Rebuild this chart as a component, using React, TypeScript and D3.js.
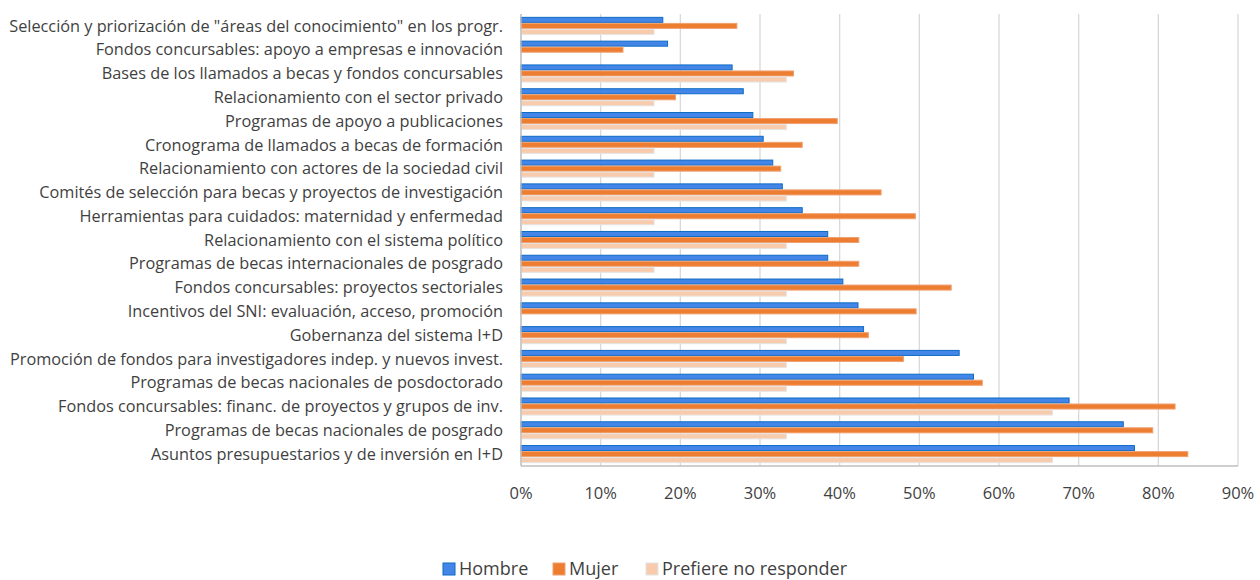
import React from "react";
import * as d3 from "d3";

const categories = [
  "Selección y priorización de \"áreas del conocimiento\" en los progr.",
  "Fondos concursables: apoyo a empresas e innovación",
  "Bases de los llamados a becas y fondos concursables",
  "Relacionamiento con el sector privado",
  "Programas de apoyo a publicaciones",
  "Cronograma de llamados a becas de formación",
  "Relacionamiento con actores de la sociedad civil",
  "Comités de selección para becas y proyectos de investigación",
  "Herramientas para cuidados: maternidad y enfermedad",
  "Relacionamiento con el sistema político",
  "Programas de becas internacionales de posgrado",
  "Fondos concursables: proyectos sectoriales",
  "Incentivos del SNI: evaluación, acceso, promoción",
  "Gobernanza del sistema I+D",
  "Promoción de fondos para investigadores indep. y nuevos invest.",
  "Programas de becas nacionales de posdoctorado",
  "Fondos concursables: financ. de proyectos y grupos de inv.",
  "Programas de becas nacionales de posgrado",
  "Asuntos presupuestarios y de inversión en I+D",
];

const hombre = [17.8, 18.4, 26.5, 27.9, 29.1, 30.4, 31.6, 32.8, 35.3, 38.5, 38.5, 40.4, 42.3, 43.0, 55.0, 56.8, 68.8, 75.6, 77.0];
const mujer = [27.1, 12.8, 34.2, 19.4, 39.7, 35.3, 32.6, 45.2, 49.5, 42.4, 42.4, 54.0, 49.6, 43.6, 48.0, 57.9, 82.1, 79.3, 83.7];
const prefiere = [16.7, 0, 33.3, 16.7, 33.3, 16.7, 16.7, 33.3, 16.7, 33.3, 16.7, 33.3, 0, 33.3, 33.3, 33.3, 66.7, 33.3, 66.7];

const seriesNames = ["Hombre", "Mujer", "Prefiere no responder"];
const seriesValues = [hombre, mujer, prefiere];
const xTicks = [0, 10, 20, 30, 40, 50, 60, 70, 80, 90];

const fills = ["#4386E8", "#ED7D31", "#F8CBAD"];
const strokes = ["#0E6BC4", "#F0A070", "#E4E4E4"];

export default function App() {
  const W = 1260;
  const H = 580;
  const left = 521;
  const right = 1238;
  const top = 14;
  const bottom = 466;

  const x = d3.scaleLinear().domain([0, 90]).range([left, right]);
  const y = d3.scaleBand<string>().domain(categories).range([top, bottom]).paddingInner(0.24).paddingOuter(0.12);
  const inner = d3.scaleBand<string>().domain(seriesNames).range([0, y.bandwidth()]);

  const textColor = "#3f3f3f";
  const font = "'Open Sans', sans-serif";

  const legendItems = [
    { name: "Hombre", x: 443 },
    { name: "Mujer", x: 553 },
    { name: "Prefiere no responder", x: 646 },
  ];

  return (
    <svg width={W} height={H} style={{ position: "absolute", left: 0, top: 0, background: "#fff" }} fontFamily={font}>
      {xTicks.map((t) => (
        <line key={"g" + t} x1={x(t)} x2={x(t)} y1={top} y2={bottom} stroke="#d9d9d9" strokeWidth={1.3} />
      ))}
      {categories.map((c, i) => (
        <g key={c}>
          {seriesNames.map((s, j) => {
            const v = seriesValues[j][i];
            if (!v) return null;
            const yy = (y(c) as number) + (inner(s) as number);
            return (
              <rect
                key={s}
                x={x(0)}
                y={yy + 0.5}
                width={x(v) - x(0)}
                height={inner.bandwidth() - 1}
                fill={fills[j]}
                stroke={strokes[j]}
                strokeWidth={1}
              />
            );
          })}
          <text
            x={left - 18}
            y={(y(c) as number) + y.bandwidth() / 2}
            dy="0.35em"
            textAnchor="end"
            fontSize={16.3}
            fill={textColor}
          >
            {c}
          </text>
        </g>
      ))}
      <line x1={left} x2={left} y1={top} y2={bottom} stroke="#bfbfbf" strokeWidth={1.3} />
      <line x1={left} x2={right} y1={bottom} y2={bottom} stroke="#bfbfbf" strokeWidth={1.3} />
      {xTicks.map((t) => (
        <text key={"t" + t} x={x(t)} y={499} textAnchor="middle" fontSize={16.5} fill={textColor}>
          {t + "%"}
        </text>
      ))}
      {legendItems.map((it, j) => (
        <g key={it.name}>
          <rect x={it.x} y={563} width={12} height={12} fill={fills[j]} stroke={strokes[j]} strokeWidth={1} />
          <text x={it.x + 16} y={575} fontSize={18} fill={textColor}>
            {it.name}
          </text>
        </g>
      ))}
    </svg>
  );
}
